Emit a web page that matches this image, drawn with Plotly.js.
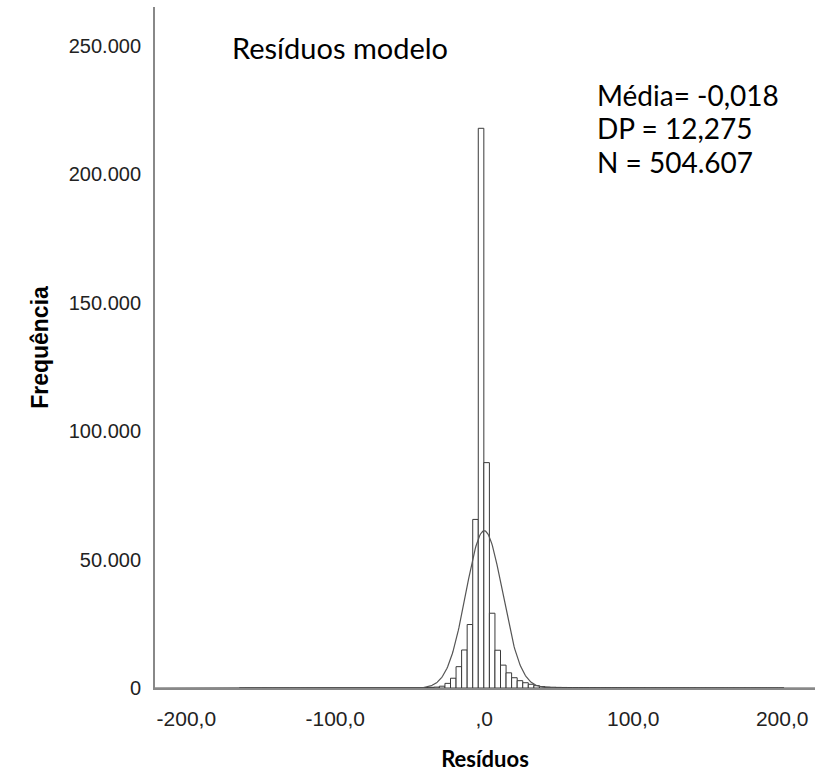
<!DOCTYPE html>
<html>
<head>
<meta charset="utf-8">
<script src="https://cdn.plot.ly/plotly-3.0.1.min.js"></script>
<style>
  html, body { margin: 0; padding: 0; background: #fff; }
  #myDiv { width: 821px; height: 772px; }
</style>
</head>
<body>
<div id="myDiv"></div>
<script>
// histogram of residuals
var binStart = -164.4;
var binWidth = 3.73;

// counts, left tail (bins far below zero)
var leftTail = [0, 40, 0, 0, 40, 0, 0, 0, 0, 0, 0, 0, 30, 0,
	20, 20, 25, 25, 30, 30, 35, 40, 40, 45, 50, 55, 60, 70, 80, 95, 110, 130, 160, 200, 260];
// counts around zero
var core = [350, 700, 1800, 3800, 8300, 14800, 24700, 65600, 217800, 87700,
	29100, 14700, 8900, 5900, 4000, 2850, 2050, 1450, 900, 550, 380, 300, 250, 210];
// counts, right tail
var rightTail = [190, 180, 170, 160, 150, 145, 140, 135, 130, 125, 120, 115, 110, 105, 100,
	95, 90, 85, 80, 78, 75, 72, 70, 68, 65, 62, 60, 58, 55, 52, 50, 48, 46, 44, 42, 40, 38, 36, 34];

// summary stats shown on the chart
var media = -0.018;
var dp = 12.275;
var n = 504607;

var xTicks = [-200, -100, 0, 100, 200];
var xTickText = ['-200,0', '-100,0', ',0', '100,0', '200,0'];
var yTicks = [0, 50000, 100000, 150000, 200000, 250000];
var yTickText = ['0', '50.000', '100.000', '150.000', '200.000', '250.000'];

var counts = leftTail.concat(core, rightTail);
var centers = counts.map((c, i) => binStart + binWidth * (i + 0.5));

// normal curve scaled to the histogram
var curveX = [];
for (var v = -221; v <= 222; v += 0.5) curveX.push(v);
var curveY = curveX.map(x => n * binWidth / (dp * Math.sqrt(2 * Math.PI)) *
	Math.exp(-0.5 * Math.pow((x - media) / dp, 2)));

var data = [
	{
		type: 'bar', x: centers, y: counts, width: binWidth,
		marker: {color: '#ffffff', line: {color: '#3a3a3a', width: 1}},
		hoverinfo: 'x+y'
	},
	{
		type: 'scatter', mode: 'lines', x: curveX, y: curveY,
		line: {color: '#555555', width: 1.2}
	}
];

var sans = 'Liberation Sans, Arial, sans-serif';
var noteFont = {family: 'Lato, sans-serif', size: 28, color: '#000'};

var layout = {
	width: 821, height: 772,
	margin: {l: 155, r: 6, t: 7, b: 84},
	paper_bgcolor: '#fff', plot_bgcolor: '#fff',
	showlegend: false,
	bargap: 0,
	xaxis: {
		range: [-221, 222],
		tickvals: xTicks, ticktext: xTickText,
		tickfont: {family: sans, size: 21, color: '#222'}, ticks: '', ticklabelstandoff: 11,
		showgrid: false, zeroline: false, layer: 'below traces',
		showline: true, linecolor: '#888', linewidth: 2,
		title: {text: 'Resíduos', standoff: 22,
			font: {family: 'Lato, sans-serif', size: 22, color: '#000', weight: 'bold'}}
	},
	yaxis: {
		range: [0, 265000],
		tickvals: yTicks, ticktext: yTickText,
		tickfont: {family: sans, size: 20, color: '#222'}, ticks: '', ticklabelstandoff: 8,
		showgrid: false, zeroline: false, layer: 'below traces',
		showline: true, linecolor: '#888', linewidth: 2,
		title: {text: 'Frequência', standoff: 14,
			font: {family: sans, size: 23, color: '#000', weight: 'bold'}}
	},
	annotations: [
		{xref: 'paper', yref: 'paper', x: 0.114, y: 0.94, xanchor: 'left', yanchor: 'middle',
			text: 'Resíduos modelo', showarrow: false, font: {family: 'Lato, sans-serif', size: 29, color: '#000'}},
		{xref: 'paper', yref: 'paper', x: 0.667, y: 0.871, xanchor: 'left', yanchor: 'middle',
			text: 'Média= -0,018', showarrow: false, font: noteFont},
		{xref: 'paper', yref: 'paper', x: 0.667, y: 0.822, xanchor: 'left', yanchor: 'middle',
			text: 'DP = 12,275', showarrow: false, font: noteFont},
		{xref: 'paper', yref: 'paper', x: 0.667, y: 0.772, xanchor: 'left', yanchor: 'middle',
			text: 'N = 504.607', showarrow: false, font: noteFont}
	]
};

Plotly.newPlot('myDiv', data, layout, {displayModeBar: false, staticPlot: true});
</script>
</body>
</html>
